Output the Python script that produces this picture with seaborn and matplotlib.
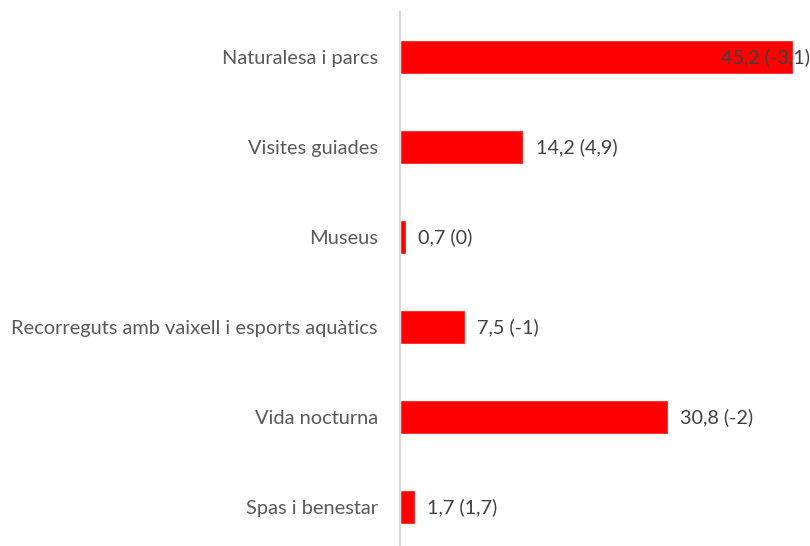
import matplotlib
matplotlib.use("Agg")
import matplotlib.pyplot as plt
import seaborn as sns
import pandas as pd

# categories top to bottom
categories = ['Naturalesa i parcs', 'Visites guiades', 'Museus',
              'Recorreguts amb vaixell i esports aquàtics',
              'Vida nocturna', 'Spas i benestar']
values = [45.2, 14.2, 0.7, 7.5, 30.8, 1.7]
changes = ['-3,1', '4,9', '0', '-1', '-2', '1,7']

df = pd.DataFrame({'cat': categories, 'val': values})

sns.set_style('white')
plt.rcParams['font.family'] = ['Lato', 'DejaVu Sans']

fig = plt.figure(figsize=(8.1, 5.46), dpi=100)
ax = fig.add_axes([400 / 810, 0, 410 / 810, 534 / 546])

sns.barplot(data=df, x='val', y='cat', orient='h', color='#ff0000',
            width=0.38, saturation=1, ax=ax)

xmax = 410 / 8.695
ax.set_xlim(0, xmax)
ax.set_ylim(5.433, -0.5)

# value labels
for i, (v, c) in enumerate(zip(values, changes)):
    lab = f"{str(v).replace('.', ',')} ({c})"
    if v + 12 > xmax:
        ax.text(xmax, i, lab, ha='right', va='center', fontsize=14.2, color='#404040')
    else:
        ax.text(v + 1.4, i, lab, ha='left', va='center', fontsize=14.2, color='#404040')

ax.set_xlabel('')
ax.set_ylabel('')
ax.set_xticks([])
ax.tick_params(axis='y', length=0, pad=16, labelsize=14.4, labelcolor='#595959')
for s in ['top', 'right', 'bottom']:
    ax.spines[s].set_visible(False)
ax.spines['left'].set_color('#d9d9d9')
ax.spines['left'].set_linewidth(1.5)

fig.savefig('out.png', dpi=100)
